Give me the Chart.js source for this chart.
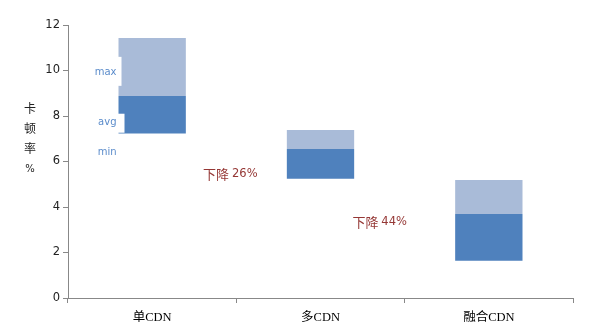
<!DOCTYPE html>
<html>
<head>
<meta charset="utf-8">
<script src="https://cdn.jsdelivr.net/npm/chart.js@4"></script>
<style>
  html, body { margin: 0; padding: 0; background: #fff; }
  #wrap { width: 597px; height: 334px; }
</style>
</head>
<body>
<div id="wrap"><canvas id="c" width="597" height="334"></canvas></div>
<script>
// Stall rate (%) per CDN setup: min / avg / max
const categories = ['单CDN', '多CDN', '融合CDN'];
const minValues = [7.23, 5.24, 1.64];
const avgValues = [8.88, 6.55, 3.69];
const maxValues = [11.43, 7.38, 5.19];
const yTicks = [0, 2, 4, 6, 8, 10, 12];
const rangeLabels = ['max', 'avg', 'min'];
const axisTitle = ['卡', '顿', '率', '%'];

const DARK = '#4f81bd';
const LIGHT = '#a9bbd8';

// drop in average stall rate between neighbouring setups
const drops = avgValues.slice(1).map((v, i) => Math.round((1 - v / avgValues[i]) * 100));

const annotations = {
  id: 'annotations',
  afterDatasetsDraw(chart) {
    const ctx = chart.ctx;
    const x = chart.scales.x, y = chart.scales.y;
    const bar = chart.getDatasetMeta(0).data[0];
    const left = bar.x - bar.width / 2;

    // range labels beside the first bar
    ctx.save();
    ctx.fillStyle = '#fff';
    ctx.fillRect(left - 27, y.getPixelForValue(10.6), 30, 29);
    ctx.fillRect(left - 27, y.getPixelForValue(8.1), 33, 19);
    ctx.font = '10px "DejaVu Sans", sans-serif';
    ctx.fillStyle = '#5b8ccb';
    ctx.textAlign = 'right';
    ctx.textBaseline = 'middle';
    const labelY = [9.93, 7.74, 6.42];
    rangeLabels.forEach((t, i) => ctx.fillText(t, left - 2, y.getPixelForValue(labelY[i])));
    ctx.restore();

    // percentage drop labels, placed between the bars they compare
    ctx.save();
    ctx.fillStyle = '#953735';
    ctx.textBaseline = 'middle';
    ctx.textAlign = 'left';
    const dropY = [5.45, 3.34];
    const dropShift = [-6, -25];
    drops.forEach((d, i) => {
      const cx = (x.getPixelForValue(i) + x.getPixelForValue(i + 1)) / 2 + dropShift[i];
      const cy = y.getPixelForValue(dropY[i]);
      const a = '下降 ';
      const b = d + '%';
      ctx.font = '13px "Noto Sans CJK SC", sans-serif';
      const wa = ctx.measureText(a).width;
      ctx.font = '11.5px "DejaVu Sans", sans-serif';
      const wb = ctx.measureText(b).width;
      const sx = cx - (wa + wb) / 2;
      ctx.font = '13px "Noto Sans CJK SC", sans-serif';
      ctx.fillText(a, sx, cy);
      ctx.font = '11.5px "DejaVu Sans", sans-serif';
      ctx.fillText(b, sx + wa, cy);
    });
    ctx.restore();

    // stacked vertical axis title
    ctx.save();
    ctx.fillStyle = '#222';
    ctx.textAlign = 'center';
    ctx.textBaseline = 'middle';
    const titleY = [108, 128, 148, 169];
    axisTitle.forEach((t, i) => {
      ctx.font = (t === '%' ? '10px "DejaVu Sans"' : '12px "Noto Sans CJK SC"') + ', sans-serif';
      ctx.fillText(t, 30, titleY[i]);
    });
    ctx.restore();
  }
};

new Chart(document.getElementById('c'), {
  type: 'bar',
  data: {
    labels: categories,
    datasets: [
      {
        label: 'min-avg',
        data: categories.map((_, i) => [minValues[i], avgValues[i]]),
        backgroundColor: DARK,
        borderWidth: 0
      },
      {
        label: 'avg-max',
        data: categories.map((_, i) => [avgValues[i], maxValues[i]]),
        backgroundColor: LIGHT,
        borderWidth: 0
      }
    ]
  },
  options: {
    responsive: false,
    animation: false,
    layout: { padding: { top: 25, right: 24, left: 0, bottom: 0 } },
    datasets: { bar: { categoryPercentage: 1, barPercentage: 0.4 } },
    plugins: { legend: { display: false }, tooltip: { enabled: false } },
    scales: {
      x: {
        stacked: true,
        afterFit(s) { s.height = 36; },
        grid: { display: true, drawOnChartArea: false, drawTicks: true, tickLength: 5, color: '#888', offset: true },
        border: { color: '#888', width: 1 },
        ticks: { color: '#000', font: { family: '"Liberation Serif", "Noto Sans CJK SC", serif', size: 12.5 }, padding: 7 }
      },
      y: {
        stacked: false,
        min: 0,
        max: 12,
        afterFit(s) { s.width = 68; },
        afterBuildTicks(s) { s.ticks = yTicks.map(v => ({ value: v })); },
        grid: { display: true, drawOnChartArea: false, drawTicks: true, tickLength: 5, color: '#888' },
        border: { color: '#888', width: 1 },
        ticks: { color: '#222', font: { family: '"DejaVu Sans", sans-serif', size: 11.5 }, padding: 3 }
      }
    }
  },
  plugins: [annotations]
});
</script>
</body>
</html>
